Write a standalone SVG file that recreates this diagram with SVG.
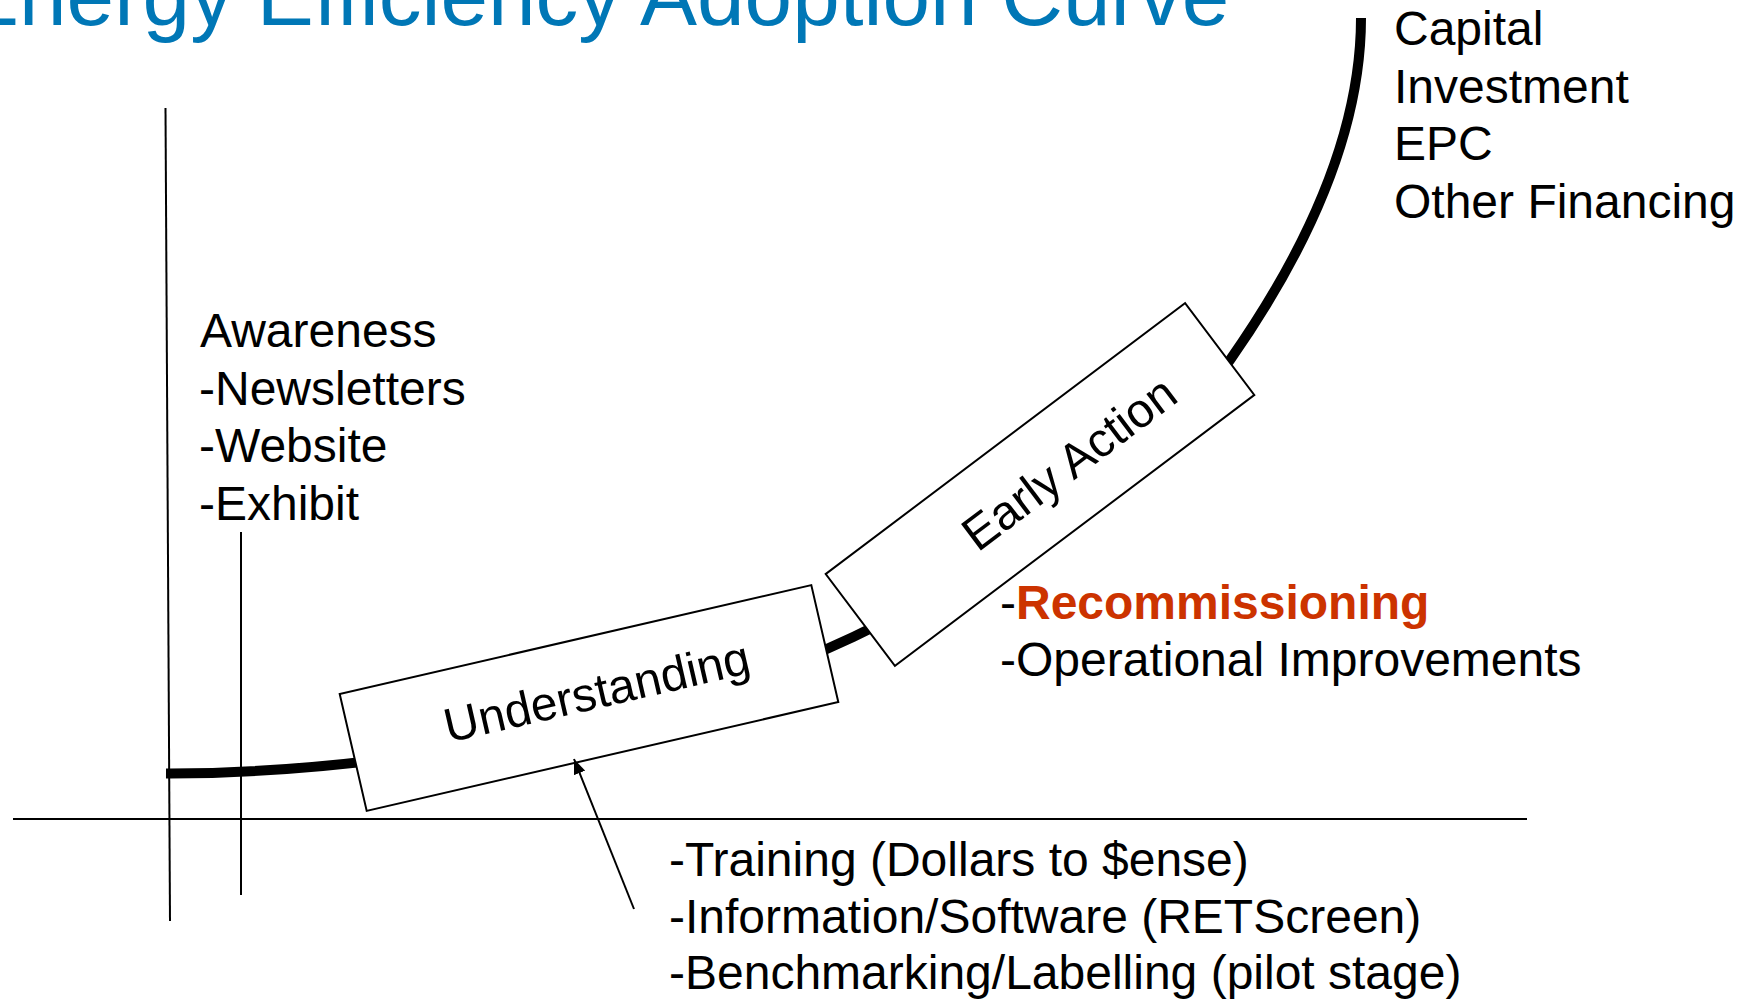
<svg xmlns="http://www.w3.org/2000/svg" width="1754" height="1000" viewBox="0 0 1754 1000">
  <style>
    .t { font-family: "Liberation Sans", Arial, sans-serif; font-size: 48px; fill: #000; }
    .title { font-family: "Liberation Sans", Arial, sans-serif; font-size: 85.5px; fill: #0077b6; }
    .red { fill: #cc3300; font-weight: bold; }
    .ax { stroke: #000; stroke-width: 2; fill: none; }
    .box { fill: #fff; stroke: #000; stroke-width: 2; }
  </style>
  <defs>
    <marker id="ah" markerWidth="15" markerHeight="12" refX="15" refY="6" orient="auto" markerUnits="userSpaceOnUse">
      <path d="M0,0 L15,6 L0,12 Z" fill="#000"/>
    </marker>
  </defs>
  <rect width="1754" height="1000" fill="#fff"/>

  <text class="title" x="-38" y="25">Energy Efficiency Adoption Curve</text>

  <g id="connectors">
    <line class="ax" x1="13" y1="819" x2="1527" y2="819"/>
    <line class="ax" x1="165.5" y1="108" x2="170" y2="921"/>
    <line class="ax" x1="241" y1="532" x2="241" y2="895"/>
    <path id="curve" d="M166,773.5 C300,774 500,752 700,700 C900,630 1130,500 1230,360 C1300,260 1361,140 1361,18" fill="none" stroke="#000" stroke-width="10"/>
  </g>

  <g id="understanding" transform="translate(589,698) rotate(-13)">
    <rect class="box" x="-242" y="-60" width="484" height="120"/>
    <text class="t" x="9" y="12" text-anchor="middle">Understanding</text>
  </g>

  <g id="early-action" transform="translate(1040,484.5) rotate(-37)">
    <rect class="box" x="-225" y="-57.5" width="450" height="115"/>
    <text class="t" x="36" y="17" text-anchor="middle">Early Action</text>
  </g>

  <g id="arrow">
    <line x1="634" y1="909" x2="574" y2="759" stroke="#000" stroke-width="2" marker-end="url(#ah)"/>
  </g>

  <g id="awareness">
    <text class="t" x="200" y="347">Awareness</text>
    <text class="t" x="199" y="404.5">-Newsletters</text>
    <text class="t" x="199" y="462">-Website</text>
    <text class="t" x="199" y="519.5">-Exhibit</text>
  </g>

  <g id="capital">
    <text class="t" x="1394" y="45">Capital</text>
    <text class="t" x="1394" y="102.5">Investment</text>
    <text class="t" x="1394" y="160">EPC</text>
    <text class="t" x="1394" y="217.5">Other Financing</text>
  </g>

  <g id="early-items">
    <text class="t" x="1000" y="618.5">-<tspan class="red">Recommissioning</tspan></text>
    <text class="t" x="1000" y="676">-Operational Improvements</text>
  </g>

  <g id="understanding-items">
    <text class="t" x="669" y="876">-Training (Dollars to $ense)</text>
    <text class="t" x="669" y="932.5">-Information/Software (RETScreen)</text>
    <text class="t" x="669" y="989">-Benchmarking/Labelling (pilot stage)</text>
  </g>
</svg>
